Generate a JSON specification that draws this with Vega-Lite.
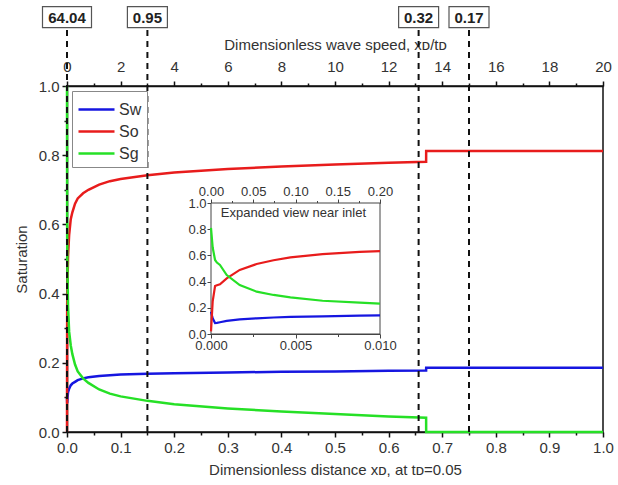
{
  "$schema": "https://vega.github.io/schema/vega-lite/v6.json",
  "width": 536,
  "height": 346,
  "autosize": {"type": "none"},
  "padding": {"left": 67, "top": 86, "right": 15, "bottom": 53},
  "config": {
    "font": "Liberation Sans",
    "view": {"stroke": "#111", "strokeWidth": 1.5},
    "axis": {
      "labelFont": "Liberation Sans",
      "titleFont": "Liberation Sans",
      "labelColor": "#333",
      "titleColor": "#333",
      "titleFontWeight": "normal",
      "domainColor": "#111",
      "tickColor": "#111",
      "grid": false,
      "labelFlush": false,
      "labelOverlap": false
    }
  },
  "resolve": {"scale": {"x": "independent", "y": "independent"}},
  "layer": [
    {
      "resolve": {"axis": {"x": "independent", "y": "independent"}},
      "layer": [
        {
          "data": {"values": [
            {"x": 0, "Sw": 0.10, "So": 0.0, "Sg": 1.0},
            {"x": 0.0003, "Sw": 0.084, "So": 0.366, "Sg": 0.565},
            {"x": 0.001, "Sw": 0.10, "So": 0.43, "Sg": 0.45},
            {"x": 0.002, "Sw": 0.115, "So": 0.51, "Sg": 0.36},
            {"x": 0.004, "Sw": 0.125, "So": 0.57, "Sg": 0.29},
            {"x": 0.007, "Sw": 0.135, "So": 0.615, "Sg": 0.25},
            {"x": 0.01, "Sw": 0.14, "So": 0.635, "Sg": 0.225},
            {"x": 0.015, "Sw": 0.145, "So": 0.66, "Sg": 0.195},
            {"x": 0.02, "Sw": 0.15, "So": 0.675, "Sg": 0.175},
            {"x": 0.03, "Sw": 0.155, "So": 0.69, "Sg": 0.155},
            {"x": 0.04, "Sw": 0.158, "So": 0.70, "Sg": 0.142},
            {"x": 0.06, "Sw": 0.162, "So": 0.715, "Sg": 0.123},
            {"x": 0.08, "Sw": 0.164, "So": 0.725, "Sg": 0.111},
            {"x": 0.1, "Sw": 0.166, "So": 0.731, "Sg": 0.103},
            {"x": 0.15, "Sw": 0.168, "So": 0.742, "Sg": 0.09},
            {"x": 0.2, "Sw": 0.17, "So": 0.75, "Sg": 0.08},
            {"x": 0.3, "Sw": 0.172, "So": 0.76, "Sg": 0.068},
            {"x": 0.4, "Sw": 0.174, "So": 0.767, "Sg": 0.059},
            {"x": 0.5, "Sw": 0.175, "So": 0.773, "Sg": 0.052},
            {"x": 0.6, "Sw": 0.177, "So": 0.778, "Sg": 0.045},
            {"x": 0.67, "Sw": 0.178, "So": 0.781, "Sg": 0.041},
            {"x": 0.6701, "Sw": 0.186, "So": 0.812, "Sg": 0.0},
            {"x": 1.0, "Sw": 0.186, "So": 0.812, "Sg": 0.0}
          ]},
          "transform": [{"fold": ["Sw", "So", "Sg"], "as": ["phase", "s"]}],
          "mark": {"type": "line", "strokeWidth": 2.5},
          "encoding": {
            "x": {"field": "x", "type": "quantitative",
              "scale": {"domain": [0, 1], "nice": false},
              "axis": {"orient": "bottom", "values": [0, 0.1, 0.2, 0.3, 0.4, 0.5, 0.6, 0.7, 0.8, 0.9, 1.0], "format": ".1f",
                "labelFontSize": 15, "tickSize": 5, "tickWidth": 1.5, "domainWidth": 1.5, "labelPadding": 3,
                "title": "Dimensionless distance xᴅ, at tᴅ=0.05", "titleFontSize": 15, "titlePadding": 7}},
            "y": {"field": "s", "type": "quantitative",
              "scale": {"domain": [0, 1], "nice": false},
              "axis": {"orient": "left", "values": [0, 0.2, 0.4, 0.6, 0.8, 1.0], "format": ".1f",
                "labelFontSize": 15, "tickSize": 5, "tickWidth": 1.5, "domainWidth": 1.5, "labelPadding": 3,
                "title": "Saturation", "titleFontSize": 15, "titlePadding": 9}},
            "color": {"field": "phase", "type": "nominal",
              "scale": {"domain": ["Sw", "So", "Sg"], "range": ["#1616e0", "#e81c1c", "#26e026"]},
              "legend": {"orient": "top-left", "offset": 5, "title": null, "symbolType": "M-1.5,0H1.5", "symbolSize": 576,
                "symbolStrokeWidth": 2.5, "symbolOffset": 6, "labelFontSize": 16, "labelFont": "Liberation Sans", "labelColor": "#333",
                "rowPadding": -2, "padding": 5, "strokeColor": "#888", "fillColor": "#fff", "labelOffset": 9}}
          }
        },
        {
          "data": {"values": [
            {"xd": 0, "label": "64.04"},
            {"xd": 0.15, "label": "0.95"},
            {"xd": 0.656, "label": "0.32"},
            {"xd": 0.75, "label": "0.17"}
          ]},
          "mark": {"type": "rule", "strokeDash": [6, 5], "strokeWidth": 2, "color": "#111"},
          "encoding": {
            "x": {"field": "xd", "type": "quantitative", "scale": {"domain": [0, 1], "nice": false}, "axis": null},
            "y": {"datum": 0, "type": "quantitative", "scale": {"domain": [0, 1], "nice": false}, "axis": null},
            "y2": {"datum": 1.165}
          }
        },
        {
          "data": {"values": [
            {"xd": 0, "label": "64.04"},
            {"xd": 0.15, "label": "0.95"},
            {"xd": 0.656, "label": "0.32"},
            {"xd": 0.75, "label": "0.17"}
          ]},
          "mark": {"type": "point", "filled": true, "fill": "#fff", "stroke": "#555", "strokeWidth": 1.2, "opacity": 1},
          "encoding": {
            "x": {"field": "xd", "type": "quantitative", "scale": {"domain": [0, 1], "nice": false}, "axis": null},
            "y": {"datum": 1.199, "type": "quantitative", "scale": {"domain": [0, 1], "nice": false}, "axis": null},
            "shape": {"condition": {"test": "datum.label === '64.04'", "value": "M-1,-0.43H1V0.43H-1Z"}, "value": "M-1,-0.525H1V0.525H-1Z"},
            "size": {"condition": {"test": "datum.label === '64.04'", "value": 2401}, "value": 1600}
          }
        },
        {
          "data": {"values": [
            {"xd": 0, "label": "64.04"},
            {"xd": 0.15, "label": "0.95"},
            {"xd": 0.656, "label": "0.32"},
            {"xd": 0.75, "label": "0.17"}
          ]},
          "mark": {"type": "text", "fontSize": 15, "fontWeight": "bold", "color": "#222", "baseline": "middle", "align": "center", "dy": 1},
          "encoding": {
            "x": {"field": "xd", "type": "quantitative", "scale": {"domain": [0, 1], "nice": false}, "axis": null},
            "y": {"datum": 1.199, "type": "quantitative", "scale": {"domain": [0, 1], "nice": false}, "axis": null},
            "text": {"field": "label"}
          }
        },
        {
          "data": {"values": [{"mx": 0, "my": 0}]},
          "mark": {"type": "point", "opacity": 0},
          "encoding": {
            "x": {"field": "mx", "type": "quantitative", "scale": {"domain": [0, 1], "nice": false},
              "axis": {"orient": "bottom", "values": [0.05, 0.15, 0.25, 0.35, 0.45, 0.55, 0.65, 0.75, 0.85, 0.95],
                "labels": false, "domain": false, "tickSize": 3, "tickWidth": 1.5, "title": null}},
            "y": {"field": "my", "type": "quantitative", "scale": {"domain": [0, 1], "nice": false},
              "axis": {"orient": "left", "values": [0.1, 0.3, 0.5, 0.7, 0.9],
                "labels": false, "domain": false, "tickSize": 3, "tickWidth": 1.5, "title": null}}
          }
        }
      ]
    },
    {
      "data": {"values": [{"w": 0}, {"w": 20}]},
      "resolve": {"axis": {"x": "independent"}},
      "layer": [
        {
          "mark": {"type": "point", "opacity": 0},
          "encoding": {
            "x": {"field": "w", "type": "quantitative", "scale": {"domain": [0, 20], "nice": false},
              "axis": {"orient": "top", "values": [0, 2, 4, 6, 8, 10, 12, 14, 16, 18, 20], "format": "d",
                "labelFontSize": 15, "tickSize": 5, "tickWidth": 1.5, "domainWidth": 1.5, "labelPadding": 7,
                "title": "Dimensionless wave speed, xᴅ/tᴅ", "titleFontSize": 15, "titlePadding": 7}}
          }
        },
        {
          "mark": {"type": "point", "opacity": 0},
          "encoding": {
            "x": {"field": "w", "type": "quantitative", "scale": {"domain": [0, 20], "nice": false},
              "axis": {"orient": "top", "values": [1, 3, 5, 7, 9, 11, 13, 15, 17, 19], "labels": false, "domain": false,
                "tickSize": 3, "tickWidth": 1.5, "title": null}}
          }
        }
      ]
    },
    {
      "resolve": {"axis": {"x": "independent", "y": "independent"}},
      "layer": [
        {
          "data": {"values": [{"a": 0}]},
          "mark": {"type": "rect", "fill": "#fff", "stroke": "#444", "strokeWidth": 1},
          "encoding": {
            "x": {"datum": 0, "type": "quantitative", "scale": {"domain": [0, 0.01], "nice": false, "range": [144, 313]}, "axis": null},
            "x2": {"datum": 0.01},
            "y": {"datum": 0, "type": "quantitative", "scale": {"domain": [0, 1], "nice": false, "range": [248, 117]}, "axis": null},
            "y2": {"datum": 1}
          }
        },
        {
          "data": {"values": [
            {"x": 0, "Sw": 0.17, "So": 0.02, "Sg": 0.81},
            {"x": 0.0001, "Sw": 0.12, "So": 0.25, "Sg": 0.66},
            {"x": 0.00024, "Sw": 0.084, "So": 0.366, "Sg": 0.565},
            {"x": 0.00035, "Sw": 0.085, "So": 0.372, "Sg": 0.545},
            {"x": 0.00053, "Sw": 0.09, "So": 0.38, "Sg": 0.527},
            {"x": 0.00093, "Sw": 0.10, "So": 0.425, "Sg": 0.45},
            {"x": 0.0017, "Sw": 0.112, "So": 0.489, "Sg": 0.374},
            {"x": 0.0027, "Sw": 0.12, "So": 0.534, "Sg": 0.323},
            {"x": 0.0037, "Sw": 0.126, "So": 0.563, "Sg": 0.298},
            {"x": 0.0047, "Sw": 0.13, "So": 0.585, "Sg": 0.28},
            {"x": 0.0066, "Sw": 0.135, "So": 0.61, "Sg": 0.254},
            {"x": 0.0088, "Sw": 0.14, "So": 0.627, "Sg": 0.239},
            {"x": 0.01, "Sw": 0.142, "So": 0.633, "Sg": 0.232}
          ]},
          "transform": [{"fold": ["Sw", "So", "Sg"], "as": ["phase", "s"]}],
          "mark": {"type": "line", "strokeWidth": 2.2},
          "encoding": {
            "x": {"field": "x", "type": "quantitative", "scale": {"domain": [0, 0.01], "nice": false, "range": [144, 313]},
              "axis": {"orient": "bottom", "offset": -98, "values": [0, 0.005, 0.01], "format": ".3f", "labelFontSize": 13,
                "tickSize": 4, "domainColor": "#444", "tickColor": "#444", "labelPadding": 1, "title": null}},
            "y": {"field": "s", "type": "quantitative", "scale": {"domain": [0, 1], "nice": false, "range": [248, 117]},
              "axis": {"orient": "left", "offset": -144, "values": [0, 0.2, 0.4, 0.6, 0.8, 1.0], "format": ".1f", "labelFontSize": 13,
                "tickSize": 4, "domainColor": "#444", "tickColor": "#444", "labelPadding": 1, "title": null}},
            "color": {"field": "phase", "type": "nominal", "legend": null}
          }
        },
        {
          "data": {"values": [{"t": "Expanded view near inlet"}]},
          "mark": {"type": "text", "fontSize": 13, "color": "#333", "align": "left", "baseline": "middle"},
          "encoding": {
            "x": {"datum": 0.00058, "type": "quantitative", "scale": {"domain": [0, 0.01], "nice": false, "range": [144, 313]}, "axis": null},
            "y": {"datum": 0.924, "type": "quantitative", "scale": {"domain": [0, 1], "nice": false, "range": [248, 117]}, "axis": null},
            "text": {"field": "t"}
          }
        },
        {
          "data": {"values": [{"mx": 0}]},
          "mark": {"type": "point", "opacity": 0},
          "encoding": {
            "x": {"field": "mx", "type": "quantitative", "scale": {"domain": [0, 0.01], "nice": false, "range": [144, 313]},
              "axis": {"orient": "bottom", "offset": -98, "values": [0.0025, 0.0075], "labels": false, "domain": false,
                "tickSize": 2.5, "tickColor": "#444", "title": null}}
          }
        }
      ]
    },
    {
      "data": {"values": [{"t": 0}, {"t": 0.2}]},
      "resolve": {"axis": {"x": "independent"}},
      "layer": [
        {
          "mark": {"type": "point", "opacity": 0},
          "encoding": {
            "x": {"field": "t", "type": "quantitative", "scale": {"domain": [0, 0.2], "nice": false, "range": [144, 313]},
              "axis": {"orient": "top", "offset": -117, "values": [0, 0.05, 0.1, 0.15, 0.2], "format": ".2f", "labelFontSize": 13,
                "tickSize": 4, "domainColor": "#444", "tickColor": "#444", "labelPadding": 1, "title": null}}
          }
        },
        {
          "mark": {"type": "point", "opacity": 0},
          "encoding": {
            "x": {"field": "t", "type": "quantitative", "scale": {"domain": [0, 0.2], "nice": false, "range": [144, 313]},
              "axis": {"orient": "top", "offset": -117, "values": [0.025, 0.075, 0.125, 0.175], "labels": false, "domain": false,
                "tickSize": 2.5, "tickColor": "#444", "title": null}}
          }
        }
      ]
    }
  ]
}
